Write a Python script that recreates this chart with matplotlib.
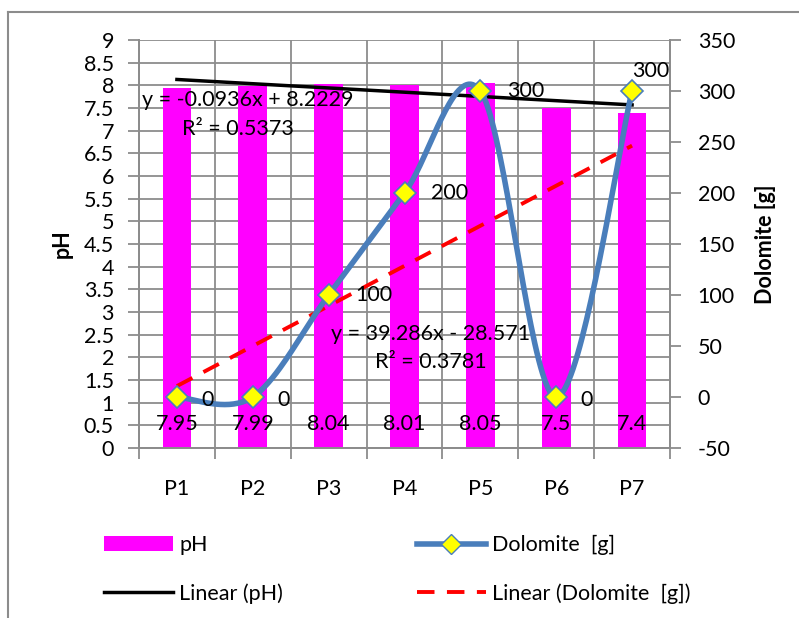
import numpy as np
import matplotlib
matplotlib.use("Agg")
import matplotlib.pyplot as plt
from matplotlib.lines import Line2D
from matplotlib.patches import Patch

plt.rcParams['font.family'] = ['Lato', 'DejaVu Sans']
plt.rcParams['axes.unicode_minus'] = False

# data
points = ["P1", "P2", "P3", "P4", "P5", "P6", "P7"]
ph = [7.95, 7.99, 8.04, 8.01, 8.05, 7.5, 7.4]
dolomite = [0, 0, 100, 200, 300, 0, 300]

# linear trend coefficients (slope, intercept) and R^2
ph_fit = (-0.0936, 8.2229, 0.5373)
dol_fit = (39.286, -28.571, 0.3781)

GRID = "#8c8c8c"
FS = 15.5


def smooth(xs, ys, n=40):
    # cardinal (Catmull-Rom) spline through the points, like a smoothed line chart
    xs = np.asarray(xs, float)
    ys = np.asarray(ys, float)
    px = np.concatenate([[xs[0]], xs, [xs[-1]]])
    py = np.concatenate([[ys[0]], ys, [ys[-1]]])
    ox, oy = [], []
    t = np.linspace(0, 1, n)
    h00 = 2 * t**3 - 3 * t**2 + 1
    h10 = t**3 - 2 * t**2 + t
    h01 = -2 * t**3 + 3 * t**2
    h11 = t**3 - t**2
    for i in range(1, len(px) - 2):
        mx0 = (px[i + 1] - px[i - 1]) / 2
        mx1 = (px[i + 2] - px[i]) / 2
        my0 = (py[i + 1] - py[i - 1]) / 2
        my1 = (py[i + 2] - py[i]) / 2
        ox.extend(h00 * px[i] + h10 * mx0 + h01 * px[i + 1] + h11 * mx1)
        oy.extend(h00 * py[i] + h10 * my0 + h01 * py[i + 1] + h11 * my1)
    return np.array(ox), np.array(oy)


fig = plt.figure(figsize=(7.99, 6.18), dpi=100)
ax = fig.add_axes([139 / 799, 1 - 448 / 618, 531 / 799, 408 / 618])
ax2 = ax.twinx()

x = np.arange(1, len(points) + 1)

# chart frame
fig.add_artist(Line2D([8 / 799, 8 / 799], [0, 1 - 12 / 618], transform=fig.transFigure,
                      color=GRID, lw=1.5))
fig.add_artist(Line2D([8 / 799, 1], [1 - 12 / 618, 1 - 12 / 618], transform=fig.transFigure,
                      color=GRID, lw=1.5))

# pH bars
ax.bar(x, ph, width=0.38, color="#ff00ff", zorder=2)
for xi, v in zip(x, ph):
    ax.text(xi, 0.52, f"{v:g}", ha="center", va="center", fontsize=FS, zorder=6)

# pH trend
xt = np.array([1, 7])
ax.plot(xt, ph_fit[0] * xt + ph_fit[1], color="black", lw=2.5, zorder=3)
ax.text(1.94, 7.68, f"y = {ph_fit[0]}x + {ph_fit[1]}", ha="center", va="center", fontsize=FS, zorder=6)
ax.text(1.8, 7.03, f"R² = {ph_fit[2]}", ha="center", va="center", fontsize=FS, zorder=6)

ax.set_xlim(0.5, 7.5)
ax.set_ylim(0, 9)
ax.set_yticks(np.arange(0, 9.01, 0.5))
ax.set_yticklabels([f"{v:g}" for v in np.arange(0, 9.01, 0.5)])
ax.set_xticks(x)
ax.set_xticklabels(points)
ax.set_xticks(np.arange(0.5, 7.6, 1), minor=True)
ax.grid(True, which="major", axis="y", color=GRID, lw=1.3, zorder=0)
ax.grid(True, which="minor", axis="x", color=GRID, lw=1.3, zorder=0)
ax.set_axisbelow(True)
ax.tick_params(axis="x", which="major", length=0, pad=22, labelsize=FS)
ax.tick_params(axis="x", which="minor", length=8, width=1.3, color=GRID, direction="out")
ax.tick_params(axis="y", length=8, width=1.3, color=GRID, pad=10, labelsize=FS)
ax.set_ylabel("pH", fontsize=FS, fontweight="bold", labelpad=8)

# dolomite smoothed line
sx, sy = smooth(x, dolomite)
ax2.plot(sx, sy, color="#4a7ebb", lw=4, zorder=4, solid_capstyle="round")
ax2.plot(x, dolomite, ls="none", marker="D", ms=11, mfc="#ffff00", mec="#4a7ebb", mew=1.2, zorder=5)
offsets = [(0.4, -3), (0.4, -3), (0.6, 0), (0.6, 0), (0.6, 0), (0.4, -3), (0.25, 20)]
for xi, v, (dx, dy) in zip(x, dolomite, offsets):
    ax2.text(xi + dx, v + dy, f"{v}", ha="center", va="center", fontsize=FS, zorder=6)

# dolomite trend
ax2.plot(xt, dol_fit[0] * xt + dol_fit[1], color="#ff0000", lw=2.8, ls=(0, (4.5, 3.2)), zorder=3)
ax2.text(4.35, 62, f"y = {dol_fit[0]}x - {abs(dol_fit[1])}", ha="center", va="center", fontsize=FS, zorder=6)
ax2.text(4.35, 34, f"R² = {dol_fit[2]}", ha="center", va="center", fontsize=FS, zorder=6)

ax2.set_ylim(-50, 350)
ax2.set_yticks(np.arange(-50, 351, 50))
ax2.tick_params(axis="y", length=8, width=1.3, color=GRID, pad=12, labelsize=FS)
ax2.set_ylabel("Dolomite [g]", fontsize=FS, fontweight="bold", labelpad=14)

for a in (ax, ax2):
    a.spines["top"].set_visible(False)
    for side in ("left", "right", "bottom"):
        a.spines[side].set_color(GRID)
        a.spines[side].set_linewidth(1.3)

# legend in two columns
h_ph = Patch(facecolor="#ff00ff", edgecolor="none")
h_ph_lin = Line2D([], [], color="black", lw=2.5)
h_dol = Line2D([], [], color="#4a7ebb", lw=4, marker="D", ms=10, mfc="#ffff00", mec="#4a7ebb")
h_dol_lin = Line2D([], [], color="#ff0000", lw=2.8, ls=(0, (4.5, 3.2)))

common = dict(frameon=False, fontsize=FS, handlelength=3.2, handletextpad=0.3,
              labelspacing=1.3, borderpad=0, borderaxespad=0, loc="upper left")
leg1 = fig.legend([h_ph, h_ph_lin], ["pH", "Linear (pH)"],
                  bbox_to_anchor=(104 / 799, 1 - 535 / 618), **common)
leg2 = fig.legend([h_dol, h_dol_lin], ["Dolomite  [g]", "Linear (Dolomite  [g])"],
                  bbox_to_anchor=(417 / 799, 1 - 535 / 618), **common)

fig.savefig("out.png", dpi=100)
